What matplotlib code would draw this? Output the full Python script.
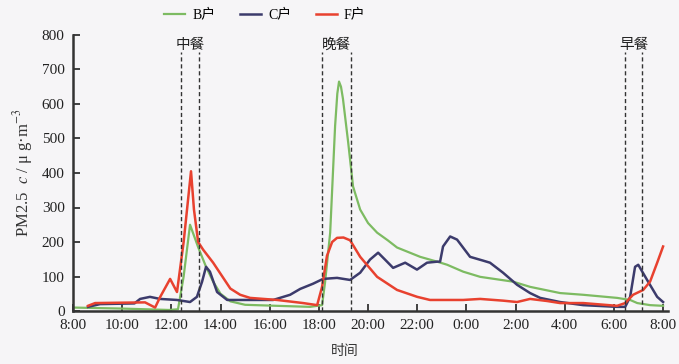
import matplotlib
matplotlib.use("Agg")
import matplotlib.pyplot as plt
from matplotlib.lines import Line2D

plt.rcParams['font.family'] = ['Liberation Serif', 'Noto Sans CJK SC', 'DejaVu Sans']
plt.rcParams['mathtext.fontset'] = 'stix'

# hours since 8:00
tick_labels = ["8:00", "10:00", "12:00", "14:00", "16:00", "18:00", "20:00",
               "22:00", "0:00", "2:00", "4:00", "6:00", "8:00"]

b_t = [0, 2, 3.9, 4.27, 4.5, 4.76, 5.09, 5.4, 5.7, 6.0, 6.4, 7.0, 8.3, 9.64, 10.13, 10.25,
       10.46, 10.66, 10.75, 10.82, 10.9, 10.98, 11.19, 11.39, 11.68, 12.0, 12.37, 12.8, 13.18,
       14.12, 14.81, 15.22, 15.87, 16.56, 17.9, 18.59, 19.81, 20.75, 22.13, 22.66, 22.95,
       23.47, 24.0]
b_v = [10, 7, 3, 5, 100, 250, 185, 130, 85, 50, 28, 18, 15, 12, 17, 82,
       227, 536, 630, 665, 650, 615, 490, 361, 294, 255, 227, 205, 184,
       157, 143, 134, 114, 99, 85, 70, 52, 47, 38, 32, 23,
       17, 15]

c_t = [0.61, 1.1, 2.5, 2.73, 3.13, 3.54, 4.23, 4.76, 5.04, 5.25, 5.41, 5.57, 5.86, 6.27,
       7.2, 8.14, 8.83, 9.24, 9.76, 10.17, 10.74, 11.27, 11.68, 12.08, 12.41, 12.69, 13.02,
       13.51, 13.99, 14.4, 14.81, 14.93, 15.05, 15.34, 15.62, 16.15, 16.68, 16.96, 17.49,
       18.06, 18.59, 19.0, 19.81, 20.75, 22.13, 22.46, 22.66, 22.86, 22.99, 23.35, 23.76, 24.0]
c_v = [12, 20, 22, 35, 41, 35, 32, 26, 41, 85, 128, 114, 55, 32,
       32, 32, 47, 64, 79, 93, 96, 90, 111, 149, 169, 149, 125,
       140, 120, 140, 143, 143, 187, 216, 207, 157, 146, 140, 111,
       76, 52, 38, 26, 17, 12, 12, 41, 128, 134, 90, 41, 26]

f_t = [0.61, 0.9, 2.93, 3.34, 3.54, 3.95, 4.23, 4.5, 4.8, 4.92, 5.09, 5.29, 5.7, 5.98,
       6.4, 6.8, 7.2, 8.3, 9.36, 9.93, 10.13, 10.33, 10.54, 10.74, 11.0, 11.27, 11.68,
       12.37, 13.18, 14.0, 14.52, 15.87, 16.56, 17.49, 18.06, 18.59, 19.28, 19.81, 20.75,
       22.13, 22.46, 22.78, 23.19, 23.47, 23.76, 24.0]
f_v = [15, 23, 25, 10, 40, 93, 55, 200, 405, 294, 200, 178, 140, 110,
       65, 47, 38, 32, 23, 17, 70, 160, 200, 212, 213, 205, 157,
       99, 61, 41, 32, 32, 35, 30, 26, 35, 29, 23, 23,
       15, 23, 47, 61, 85, 140, 187]

meal_names = ["中餐", "晚餐", "早餐"]
meal_start = [4.39, 10.13, 22.46]
meal_end = [5.13, 11.31, 23.15]

green = '#7dbb62'
navy = '#3c3b6c'
red = '#e8412f'
bg = '#f6f5f7'

fig = plt.figure(figsize=(6.79, 3.64), dpi=100, facecolor=bg)
ax = fig.add_axes([73/679, 1-311/364, (668-73)/679, (311-35)/364])
ax.set_facecolor(bg)

ax.plot(b_t, b_v, color=green, lw=1.6, label='B户')
ax.plot(c_t, c_v, color=navy, lw=1.8, label='C户')
ax.plot(f_t, f_v, color=red, lw=1.8, label='F户')

for name, s, e in zip(meal_names, meal_start, meal_end):
    ax.vlines([s, e], 0, 750, colors='#333333', linestyles=(0, (3, 2)), lw=1.0)
    ax.text((s + e) / 2, 770, name, ha='center', va='center', fontsize=10.5, color='#222222')

ax.set_xlim(0, 24.2)
ax.set_ylim(0, 800)
ax.set_xticks(range(0, 25, 2))
ax.set_xticklabels(tick_labels)
ax.set_yticks(range(0, 801, 100))
ax.tick_params(direction='in', length=5, width=1.2, labelsize=11, colors='#222222', pad=6)
for s in ['top', 'right']:
    ax.spines[s].set_visible(False)
for s in ['left', 'bottom']:
    ax.spines[s].set_linewidth(1.8)
    ax.spines[s].set_color('#333333')

ax.set_ylabel('PM2.5  $c$ / μ g·m$^{-3}$', fontsize=12, color='#333333', labelpad=5)
fig.text(345/679, 1-352/364, '时间', ha='center', va='center', fontsize=10, color='#333333')

handles = [Line2D([], [], color=green, lw=1.6), Line2D([], [], color=navy, lw=1.8),
           Line2D([], [], color=red, lw=1.8)]
ax.legend(handles, ['B户', 'C户', 'F户'], loc='center', bbox_to_anchor=((265-73)/595, (311-15)/276),
          ncol=3, frameon=False, handlelength=1.5, columnspacing=1.8, handletextpad=0.5, fontsize=10)

fig.savefig('out.png', dpi=100, facecolor=bg)
